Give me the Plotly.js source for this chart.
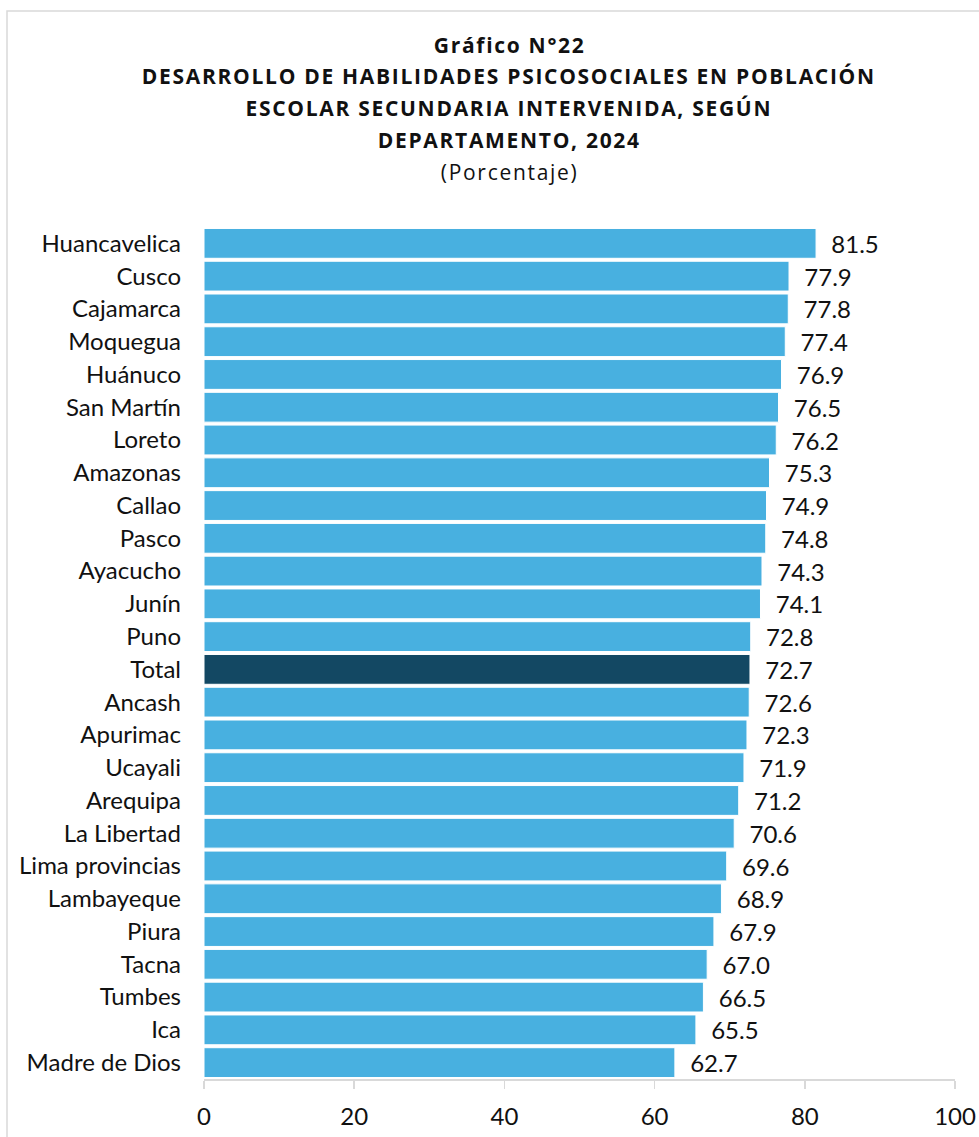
<!DOCTYPE html>
<html>
<head>
<meta charset="utf-8">
<script src="https://cdn.plot.ly/plotly-3.0.1.min.js"></script>
<style>
html,body{margin:0;padding:0;background:#fff;}
#chart{width:979px;height:1137px;}
</style>
</head>
<body>
<div id="chart"></div>
<script>
const categories = ["Huancavelica","Cusco","Cajamarca","Moquegua","Huánuco","San Martín","Loreto","Amazonas","Callao","Pasco","Ayacucho","Junín","Puno","Total","Ancash","Apurimac","Ucayali","Arequipa","La Libertad","Lima provincias","Lambayeque","Piura","Tacna","Tumbes","Ica","Madre de Dios"];
const values = [81.5,77.9,77.8,77.4,76.9,76.5,76.2,75.3,74.9,74.8,74.3,74.1,72.8,72.7,72.6,72.3,71.9,71.2,70.6,69.6,68.9,67.9,67.0,66.5,65.5,62.7];
const xTicks = [0,20,40,60,80,100];
const titleLines = ["Gráfico N°22","DESARROLLO DE HABILIDADES PSICOSOCIALES EN POBLACIÓN","ESCOLAR SECUNDARIA INTERVENIDA, SEGÚN","DEPARTAMENTO, 2024","(Porcentaje)"];

const barColor = "#48B0E0";
const totalColor = "#134863";
const colors = categories.map(c => c === "Total" ? totalColor : barColor);

const W = 979, H = 1137;
const L = 204, R = 24, T = 227, B = 58;
const plotH = H - T - B;
const plotW = W - L - R;
const py = pix => (H - B - pix) / plotH;
const px = pix => (pix - L) / plotW;

const titleY = [45, 76, 108, 140, 172];
const annotations = titleLines.map((t, i) => ({
  text: i < 4 ? "<b>" + t + "</b>" : t,
  xref: "paper", yref: "paper",
  x: px(509), y: py(titleY[i]),
  xanchor: "center", yanchor: "middle",
  showarrow: false,
  font: {family: "Open Sans", size: 21, color: "#111"}
}));

const trace = {
  type: "bar",
  orientation: "h",
  y: categories,
  x: values,
  marker: {color: colors, line: {color: "#ffffff", width: 1}},
  text: values.map(v => v.toFixed(1)),
  texttemplate: "\u00a0\u00a0%{text}",
  textposition: "outside",
  constraintext: "none",
  cliponaxis: false,
  textfont: {family: "Lato", size: 24, color: "#111"},
  hoverinfo: "skip"
};

const layout = {
  width: W, height: H,
  margin: {l: L, r: R, t: T, b: B, pad: 0},
  paper_bgcolor: "#fff",
  plot_bgcolor: "#fff",
  showlegend: false,
  bargap: 0.09,
  font: {family: "Lato", size: 24, color: "#111"},
  xaxis: {
    range: [0, 100],
    tickvals: xTicks,
    ticktext: xTicks.map(String),
    showgrid: false,
    zeroline: false,
    showline: true,
    linecolor: "#d9d9d9",
    linewidth: 1.5,
    ticks: "outside",
    ticklen: 8,
    tickwidth: 1.5,
    tickcolor: "#d9d9d9",
    ticklabelstandoff: 8,
    tickfont: {family: "Lato", size: 24, color: "#111"},
    fixedrange: true
  },
  yaxis: {
    type: "category",
    categoryorder: "array",
    categoryarray: categories,
    autorange: "reversed",
    showgrid: false,
    zeroline: false,
    showline: false,
    ticks: "",
    ticklabelstandoff: 22,
    tickfont: {family: "Lato", size: 24, color: "#111"},
    fixedrange: true
  },
  annotations: annotations,
  shapes: [{
    type: "rect", xref: "paper", yref: "paper",
    x0: px(7), x1: px(W + 20), y0: py(H + 20), y1: py(11),
    line: {color: "#d9d9d9", width: 1.5},
    fillcolor: "rgba(0,0,0,0)",
    layer: "below"
  }]
};

Plotly.newPlot("chart", [trace], layout, {displayModeBar: false, staticPlot: true}).then(gd => {
  gd.querySelectorAll(".annotation-text").forEach(el => {
    el.style.letterSpacing = "1.7px";
  });
});
</script>
</body>
</html>
